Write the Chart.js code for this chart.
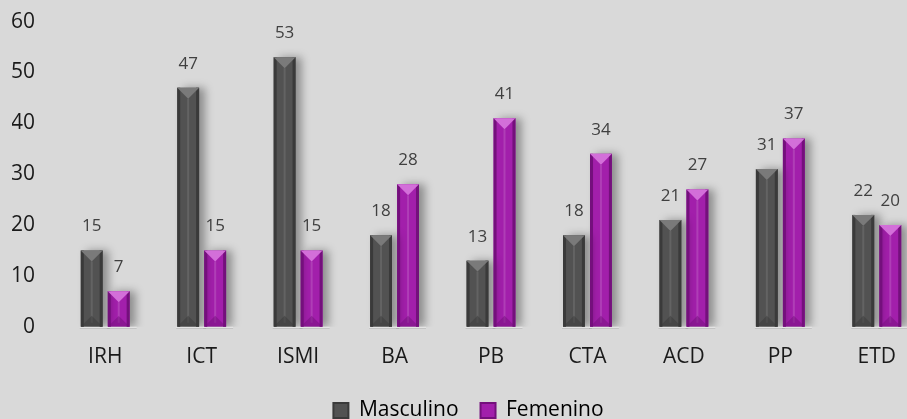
<!DOCTYPE html>
<html>
<head>
<meta charset="utf-8">
<script src="https://cdn.jsdelivr.net/npm/chart.js@4.4.1/dist/chart.umd.min.js"></script>
<style>
  html, body { margin: 0; padding: 0; background: #d9d9d9; overflow: hidden; }
  #wrap { width: 907px; height: 419px; overflow: hidden; position: relative; }
  #chart { position: absolute; left: 0; top: -13px; }
</style>
</head>
<body>
<div id="wrap"><canvas id="chart" width="930" height="444"></canvas></div>
<script>
// Data
const categories = ['IRH', 'ICT', 'ISMI', 'BA', 'PB', 'CTA', 'ACD', 'PP', 'ETD'];
const masculino = [15, 47, 53, 18, 13, 18, 21, 31, 22];
const femenino = [7, 15, 15, 28, 41, 34, 27, 37, 20];
const seriesNames = ['Masculino', 'Femenino'];
const yMin = 0, yMax = 60, yStep = 10;

const FONT = "'Open Sans', 'Noto Sans', sans-serif";

// gray and magenta "bevel" look
const looks = [
    { base: '#525252', edge: '#3a3a3a', top: '#7a7a7a', shine: 'rgba(255,255,255,0.10)' },
    { base: '#a21fab', edge: '#74107c', top: '#d36fd9', shine: 'rgba(255,255,255,0.14)' }
];

const bevelPlugin = {
    id: 'bevel',
    beforeDraw(chart) {
        const c = chart.ctx;
        c.save();
        c.fillStyle = '#d9d9d9';
        c.fillRect(0, 0, chart.width, chart.height);
        c.restore();
    },
    beforeDatasetsDraw(chart) {
        const c = chart.ctx;
        c.save();
        c.shadowColor = 'rgba(0,0,0,0.35)';
        c.shadowBlur = 9;
        c.shadowOffsetX = 6;
        c.shadowOffsetY = 0;
    },
    afterDatasetsDraw(chart) {
        const c = chart.ctx;
        c.restore();
        chart.data.datasets.forEach((ds, di) => {
            const look = looks[di];
            chart.getDatasetMeta(di).data.forEach((bar, i) => {
                const w = bar.width, l = bar.x - w / 2, r = bar.x + w / 2;
                const t = bar.y, b = bar.base;
                const e = 3;
                c.save();
                // base reflection line
                c.fillStyle = 'rgba(255,255,255,0.55)';
                c.fillRect(l - 1, b, w + 8, 1);
                c.fillStyle = 'rgba(0,0,0,0.12)';
                c.fillRect(l - 1, b + 1, w + 8, 1);
                // dark side edges
                c.fillStyle = look.edge;
                c.fillRect(l, t, e, b - t);
                c.fillRect(r - e, t, e, b - t);
                // soft center shine
                c.fillStyle = look.shine;
                c.fillRect(bar.x - 1, t + w / 2, 2, b - t - w / 2 - 4);
                // top triangle
                c.beginPath();
                c.moveTo(l, t);
                c.lineTo(r, t);
                c.lineTo(bar.x, t + Math.min(w / 2, (b - t) * 0.6));
                c.closePath();
                c.fillStyle = look.top;
                c.fill();
                // bottom inverted wedge
                c.beginPath();
                c.moveTo(l, b);
                c.lineTo(r, b);
                c.lineTo(bar.x, b - Math.min(w / 2, (b - t) * 0.3));
                c.closePath();
                c.fillStyle = look.edge;
                c.globalAlpha = 0.5;
                c.fill();
                c.restore();

                // value label
                c.save();
                c.font = '17px ' + FONT;
                c.fillStyle = '#404040';
                c.textAlign = 'center';
                c.textBaseline = 'middle';
                c.fillText(ds.data[i], bar.x, t - 24);
                c.restore();
            });
        });
    }
};

const ctx = document.getElementById('chart').getContext('2d');
const myChart = new Chart(ctx, {
    type: 'bar',
    data: {
        labels: categories,
        datasets: [
            { label: seriesNames[0], data: masculino, backgroundColor: looks[0].base, borderWidth: 0 },
            { label: seriesNames[1], data: femenino, backgroundColor: looks[1].base, borderWidth: 0 }
        ]
    },
    options: {
        responsive: false,
        animation: false,
        devicePixelRatio: 1,
        categoryPercentage: 0.56,
        barPercentage: 0.81,
        layout: { padding: { left: 12, right: 5, top: 0, bottom: 0 } },
        plugins: {
            tooltip: { enabled: false },
            legend: {
                position: 'bottom',
                labels: {
                    font: { family: FONT, size: 21 },
                    color: '#1a1a1a',
                    boxWidth: 15,
                    boxHeight: 15,
                    padding: 22,
                    generateLabels(chart) {
                        return chart.data.datasets.map((ds, i) => ({
                            text: ds.label,
                            fillStyle: looks[i].base,
                            strokeStyle: looks[i].edge,
                            lineWidth: 2,
                            datasetIndex: i
                        }));
                    }
                }
            }
        },
        scales: {
            x: {
                grid: { display: false, drawTicks: false },
                border: { display: false },
                ticks: { font: { family: FONT, size: 21 }, color: '#1a1a1a', padding: 18 },
                afterFit(scale) { scale.height -= 10; }
            },
            y: {
                min: yMin,
                max: yMax,
                grid: { display: false, drawTicks: false },
                border: { display: false },
                ticks: { stepSize: yStep, font: { family: FONT, size: 21 }, color: '#1a1a1a', padding: 22 },
                afterFit(scale) { scale.width = 45; }
            }
        }
    },
    plugins: [bevelPlugin]
});
</script>
</body>
</html>
